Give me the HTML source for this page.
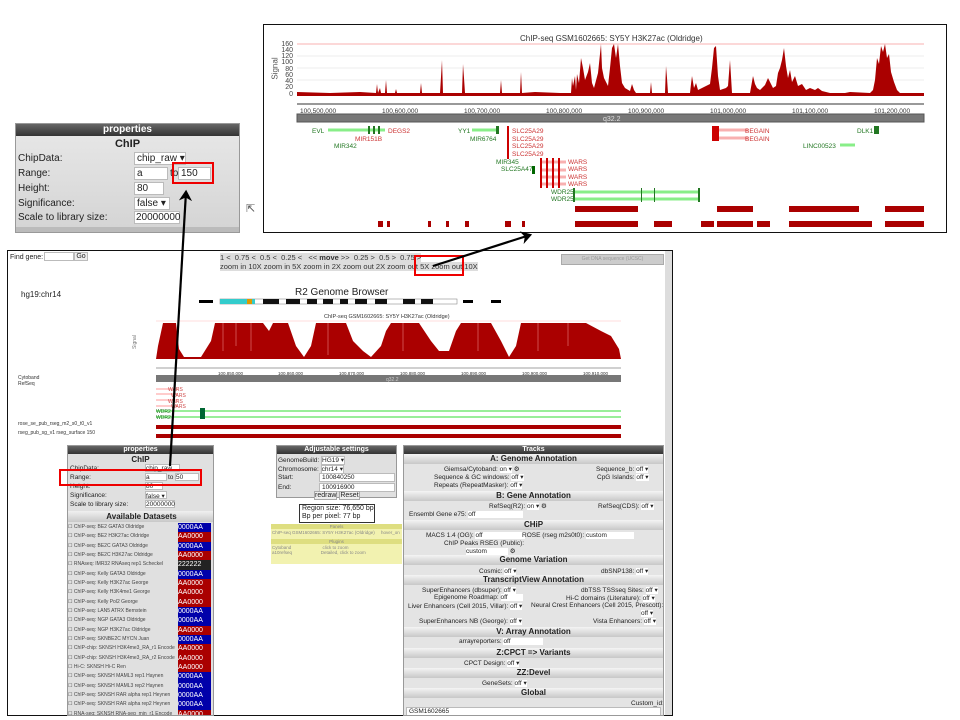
<!DOCTYPE html>
<html><head><meta charset="utf-8">
<style>
*{margin:0;padding:0;box-sizing:border-box}
body{width:960px;height:720px;background:#fff;position:relative;overflow:hidden;font-family:"Liberation Sans",sans-serif;color:#222}
.a{position:absolute}
.t{position:absolute;white-space:nowrap}
.hdr{background:linear-gradient(#666,#333);color:#fff;font-weight:bold;text-align:center}
.sec{position:absolute;left:0;right:0;background:linear-gradient(#f4f4f4,#c8c8c8);font-weight:bold;text-align:center;font-size:8px;height:10px;line-height:10px}
.inp{position:absolute;background:#fff;border:1px solid #bbb}
.rb{position:absolute;border:2px solid #e00}
</style></head><body>

<!-- TOP ZOOMED CHART -->
<div class="a" style="left:263px;top:24px;width:684px;height:209px;border:1.5px solid #111"></div>
<div class="t" style="left:520px;top:34px;font-size:8px;color:#333">ChIP-seq GSM1602665: SY5Y H3K27ac (Oldridge)</div>
<div class="t" style="left:264px;top:64px;font-size:8px;color:#555;transform:rotate(-90deg)">Signal</div>
<svg class="a" style="left:270px;top:38px" width="670" height="190">
 <g font-size="7" fill="#444" font-family="Liberation Sans" text-anchor="end">
  <text x="23" y="8">160</text><text x="23" y="14">140</text><text x="23" y="20">120</text><text x="23" y="26">100</text><text x="23" y="33">80</text><text x="23" y="39">60</text><text x="23" y="45">40</text><text x="23" y="51">20</text><text x="23" y="58">0</text>
 </g>
 <line x1="27" y1="6" x2="654" y2="6" stroke="#f8b0b0" stroke-width="1"/>
 <g stroke="#eee"><line x1="27" y1="18" x2="654" y2="18"/><line x1="27" y1="30" x2="654" y2="30"/><line x1="27" y1="42" x2="654" y2="42"/></g>
 <polygon fill="#a00" points="27,56 27,54 60,55 90,54 106,55 107,46 108,55 110,50 111,55 115,55 116,42 117,55 125,55 126,51 127,55 150,55 151,45 152,55 170,55 171,39 172,22 173,55 192,55 193,26 194,40 195,55 230,55 231,42 232,55 250,55 251,34 252,55 265,54 290,55 301,55 302,40 303,48 305,38 306,52 307,36 309,45 311,20 313,30 315,42 318,34 320,25 322,45 324,50 328,35 330,16 331,6 332,30 334,40 338,48 340,30 342,10 344,6 346,20 348,6 350,28 352,45 355,50 360,53 362,46 364,52 366,55 380,55 381,44 382,55 395,55 396,28 397,40 398,55 420,55 421,46 422,38 424,50 426,45 428,52 432,50 436,48 440,46 442,30 444,10 446,8 448,38 450,52 456,50 458,48 460,22 462,55 480,55 483,38 485,46 487,50 490,52 495,47 498,40 500,44 503,50 506,48 508,35 510,30 512,22 514,10 516,28 518,40 520,32 522,44 525,38 528,48 532,46 536,52 540,50 545,52 548,50 552,53 560,55 575,55 580,54 600,55 603,52 605,42 607,20 609,26 611,8 613,14 615,6 617,20 619,16 621,34 624,44 627,52 630,55 654,55 654,58 27,58"/>
 <line x1="27" y1="66" x2="654" y2="66" stroke="#333"/>
 <g font-size="6.5" fill="#333" font-family="Liberation Sans">
  <text x="30" y="75">100,500,000</text><text x="112" y="75">100,600,000</text><text x="194" y="75">100,700,000</text><text x="276" y="75">100,800,000</text><text x="358" y="75">100,900,000</text><text x="440" y="75">101,000,000</text><text x="522" y="75">101,100,000</text><text x="604" y="75">101,200,000</text>
 </g>
 <rect x="27" y="76" width="627" height="8" fill="#777" stroke="#555"/>
 <text x="333" y="83" font-size="7" fill="#ddd" font-family="Liberation Sans">q32.2</text>
 <g font-size="6.5" font-family="Liberation Sans">
  <line x1="58" y1="92" x2="115" y2="92" stroke="#8e8" stroke-width="3"/><text x="42" y="95" fill="#272">EVL</text>
  <g><rect x="98" y="88" width="2" height="8" fill="#272"/><rect x="103" y="88" width="2" height="8" fill="#272"/><rect x="108" y="88" width="2" height="8" fill="#272"/></g>
  <text x="118" y="95" fill="#c33">DEGS2</text>
  <text x="85" y="103" fill="#c33">MIR151B</text><text x="64" y="110" fill="#272">MIR342</text>
  <text x="188" y="95" fill="#272">YY1</text><line x1="202" y1="92" x2="228" y2="92" stroke="#8e8" stroke-width="3"/><rect x="226" y="88" width="3" height="8" fill="#272"/>
  <text x="200" y="103" fill="#272">MIR6764</text>
  <g fill="#c33"><text x="242" y="95">SLC25A29</text><text x="242" y="103">SLC25A29</text><text x="242" y="110">SLC25A29</text><text x="242" y="118">SLC25A29</text></g>
  <g fill="#c00"><rect x="237" y="88" width="2" height="33"/></g>
  <text x="226" y="126" fill="#272">MIR345</text><text x="231" y="133" fill="#272">SLC25A47</text><rect x="262" y="128" width="3" height="8" fill="#060"/>
  <g stroke="#f8b0b0" stroke-width="3"><line x1="270" y1="124" x2="296" y2="124"/><line x1="270" y1="132" x2="296" y2="132"/><line x1="270" y1="139" x2="296" y2="139"/><line x1="270" y1="146" x2="296" y2="146"/></g>
  <g fill="#c00"><rect x="270" y="120" width="2" height="30"/><rect x="276" y="120" width="2" height="30"/><rect x="282" y="120" width="2" height="30"/><rect x="288" y="120" width="2" height="30"/></g>
  <g fill="#c33"><text x="298" y="126">WARS</text><text x="298" y="133">WARS</text><text x="298" y="141">WARS</text><text x="298" y="148">WARS</text></g>
  <g stroke="#8e8" stroke-width="3"><line x1="304" y1="154" x2="430" y2="154"/><line x1="304" y1="161" x2="430" y2="161"/></g>
  <g fill="#272"><rect x="303" y="150" width="2" height="14"/><rect x="428" y="150" width="2" height="14"/><rect x="371" y="150" width="1" height="14"/><rect x="384" y="150" width="1" height="14"/></g>
  <text x="281" y="156" fill="#272">WDR25</text><text x="281" y="163" fill="#272">WDR25</text>
  <g stroke="#f8b0b0" stroke-width="3"><line x1="448" y1="92" x2="478" y2="92"/><line x1="448" y1="100" x2="478" y2="100"/></g>
  <rect x="442" y="88" width="7" height="15" fill="#c00"/>
  <text x="475" y="95" fill="#c33">BEGAIN</text><text x="475" y="103" fill="#c33">BEGAIN</text>
  <text x="533" y="110" fill="#272">LINC00523</text><line x1="570" y1="107" x2="585" y2="107" stroke="#8e8" stroke-width="3"/>
  <text x="587" y="95" fill="#272">DLK1</text><rect x="604" y="88" width="5" height="8" fill="#272"/>
 </g>
 <g fill="#a00">
  <rect x="305" y="168" width="63" height="6"/><rect x="447" y="168" width="36" height="6"/><rect x="519" y="168" width="70" height="6"/><rect x="615" y="168" width="39" height="6"/>
  <rect x="305" y="183" width="63" height="6"/><rect x="384" y="183" width="18" height="6"/><rect x="431" y="183" width="13" height="6"/><rect x="447" y="183" width="36" height="6"/><rect x="487" y="183" width="13" height="6"/><rect x="519" y="183" width="70" height="6"/><rect x="589" y="183" width="13" height="6"/><rect x="615" y="183" width="39" height="6"/>
  <rect x="108" y="183" width="5" height="6"/><rect x="117" y="183" width="3" height="6"/><rect x="158" y="183" width="3" height="6"/><rect x="176" y="183" width="3" height="6"/><rect x="195" y="183" width="4" height="6"/><rect x="235" y="183" width="6" height="6"/><rect x="252" y="183" width="3" height="6"/>
 </g>
</svg>

<!-- TOP PROPERTIES PANEL -->
<div class="a" style="left:15px;top:123px;width:225px;height:110px;background:linear-gradient(#e8e8e8,#d4d4d4);border:1px solid #999;overflow:hidden;font-size:10px">
 <div class="hdr" style="height:12px;line-height:12px;font-size:10px">properties</div>
 <div style="text-align:center;font-weight:bold;font-size:11px;margin-top:2px">ChIP</div>
 <div class="t" style="left:2px;top:29px">ChipData:</div>
 <div class="t" style="left:2px;top:44px">Range:</div>
 <div class="t" style="left:2px;top:59px">Height:</div>
 <div class="t" style="left:2px;top:74px">Significance:</div>
 <div class="t" style="left:2px;top:88px">Scale to library size:</div>
 <div class="inp" style="left:118px;top:28px;width:52px;height:13px;padding-left:2px">chip_raw ▾</div>
 <div class="inp" style="left:118px;top:43px;width:34px;height:13px;padding-left:2px">a</div>
 <div class="t" style="left:154px;top:44px">to</div>
 <div class="inp" style="left:162px;top:43px;width:33px;height:13px;padding-left:2px">150</div>
 <div class="inp" style="left:118px;top:58px;width:30px;height:13px;padding-left:2px">80</div>
 <div class="inp" style="left:118px;top:73px;width:36px;height:13px;padding-left:2px">false ▾</div>
 <div class="inp" style="left:118px;top:87px;width:46px;height:13px;padding-left:1px">20000000</div>
 <div class="a" style="left:0;top:103px;width:226px;height:8px;background:#bbb"></div>
</div>
<div class="rb" style="left:172px;top:162px;width:42px;height:22px"></div>
<div class="t" style="left:246px;top:202px;font-size:11px;color:#555">⇱</div>

<!-- MAIN SCREENSHOT -->
<div class="a" style="left:7px;top:250px;width:666px;height:466px;border:1.5px solid #111;overflow:hidden;font-size:7px">
 <div class="a" style="left:657px;top:0;width:7px;height:466px;background:#ddd"></div>
 <div class="t" style="left:2px;top:3px">Find gene:</div>
 <div class="inp" style="left:36px;top:1px;width:30px;height:9px"></div>
 <div class="inp" style="left:66px;top:1px;width:14px;height:9px;background:#eee;text-align:center">Go</div>
 <div class="t" style="left:212px;top:2px;font-size:7.5px;background:#ddd;color:#333">1 &lt; &nbsp;0.75 &lt; &nbsp;0.5 &lt; &nbsp;0.25 &lt; &nbsp; &lt;&lt; <b>move</b> &gt;&gt; &nbsp;0.25 &gt; &nbsp;0.5 &gt; &nbsp;0.75 &gt;</div>
 <div class="t" style="left:212px;top:11px;font-size:7.5px;background:#ddd;color:#333">zoom in 10X zoom in 5X zoom in 2X zoom out 2X zoom out 5X zoom out 10X</div>
 <div class="a" style="left:553px;top:3px;width:103px;height:11px;background:#ccc;border:1px solid #aaa;color:#999;font-size:5px;text-align:center;line-height:9px">Get DNA sequence (UCSC)</div>
 <div class="t" style="left:13px;top:39px;font-size:8px">hg19:chr14</div>
 <div class="t" style="left:287px;top:36px;font-size:10px;color:#222">R2 Genome Browser</div>
 <svg class="a" style="left:185px;top:47px" width="320" height="8">
  <rect x="6" y="2" width="14" height="3" fill="#000"/>
  <rect x="27" y="1" width="237" height="5" fill="#fff" stroke="#777" stroke-width=".5"/>
  <rect x="27" y="1" width="35" height="5" fill="#3cc"/><rect x="54" y="1" width="5" height="5" fill="#d90"/>
  <g fill="#111"><rect x="70" y="1" width="16" height="5"/><rect x="93" y="1" width="14" height="5"/><rect x="114" y="1" width="10" height="5"/><rect x="130" y="1" width="10" height="5"/><rect x="147" y="1" width="8" height="5"/><rect x="162" y="1" width="12" height="5"/><rect x="182" y="1" width="12" height="5"/><rect x="210" y="1" width="12" height="5"/><rect x="228" y="1" width="12" height="5"/></g>
  <rect x="270" y="2" width="10" height="3" fill="#000"/><rect x="298" y="2" width="10" height="3" fill="#000"/>
 </svg>
 <div class="t" style="left:316px;top:63px;font-size:5.5px;color:#333">ChIP-seq GSM1602665: SY5Y H3K27ac (Oldridge)</div>
 <div class="t" style="left:120px;top:88px;font-size:5px;color:#777;transform:rotate(-90deg)">Signal</div>
 <svg class="a" style="left:0;top:0" width="664" height="466">
  <line x1="148" y1="70" x2="613" y2="70" stroke="#fbb" stroke-width=".6"/>
  <polygon fill="#a00" points="148,108 150,95 155,72 168,72 171,98 176,106 193,106 203,90 207,72 255,72 261,80 265,72 280,72 288,95 296,106 303,95 308,72 338,72 345,90 355,100 363,106 373,95 378,80 383,72 411,72 423,90 431,100 441,100 448,80 453,72 483,72 493,90 501,106 508,95 513,72 578,72 593,80 603,85 611,98 613,108"/>
  <g stroke="#e88" stroke-width=".7" opacity=".8"><line x1="215" y1="72" x2="215" y2="100"/><line x1="228" y1="72" x2="228" y2="95"/><line x1="243" y1="72" x2="243" y2="100"/><line x1="320" y1="72" x2="320" y2="104"/><line x1="395" y1="72" x2="395" y2="100"/><line x1="470" y1="72" x2="470" y2="100"/><line x1="530" y1="72" x2="530" y2="100"/><line x1="560" y1="72" x2="560" y2="95"/></g>
  <line x1="148" y1="117" x2="613" y2="117" stroke="#444" stroke-width=".6"/>
  <g font-size="4.5" fill="#333" font-family="Liberation Sans"><text x="210" y="124">100,850,000</text><text x="270" y="124">100,860,000</text><text x="331" y="124">100,870,000</text><text x="392" y="124">100,880,000</text><text x="453" y="124">100,890,000</text><text x="514" y="124">100,900,000</text><text x="575" y="124">100,910,000</text></g>
  <rect x="148" y="124" width="465" height="7" fill="#777"/>
  <text x="378" y="130" font-size="5" fill="#ccc" font-family="Liberation Sans">q32.2</text>
  <g font-size="5" fill="#333" font-family="Liberation Sans"><text x="10" y="128">Cytoband</text><text x="10" y="134">RefSeq</text><text x="10" y="174">rose_se_pub_rseg_m2_s0_t0_v1</text><text x="10" y="183">rseg_pub_sg_v1 rseg_surface 150</text></g>
  <g stroke="#fbb" stroke-width="1.5"><line x1="148" y1="138" x2="170" y2="138"/><line x1="148" y1="143" x2="170" y2="143"/><line x1="148" y1="149" x2="170" y2="149"/><line x1="148" y1="155" x2="170" y2="155"/></g>
  <g font-size="5" fill="#c44" font-family="Liberation Sans"><text x="160" y="140">WARS</text><text x="163" y="146">WARS</text><text x="160" y="152">WARS</text><text x="163" y="157">WARS</text></g>
  <g stroke="#9e9" stroke-width="2"><line x1="148" y1="160" x2="613" y2="160"/><line x1="148" y1="166" x2="613" y2="166"/></g>
  <rect x="192" y="157" width="5" height="11" fill="#063"/>
  <g font-size="5" fill="#272" font-family="Liberation Sans"><text x="148" y="162">WDR2</text><text x="148" y="168">WDR2</text></g>
  <rect x="148" y="174" width="465" height="4" fill="#a00"/><rect x="148" y="183" width="465" height="4" fill="#a00"/>
 </svg>
</div>
<div class="rb" style="left:414px;top:255px;width:50px;height:21px"></div>

<!-- BOTTOM PROPERTIES -->
<div class="a" style="left:67px;top:445px;width:147px;height:271px;background:#e0e0e0;border:1px solid #999;overflow:hidden;font-size:6.5px">
 <div class="hdr" style="height:8px;line-height:8px;font-size:7px">properties</div>
 <div style="text-align:center;font-weight:bold;font-size:8px;margin-top:1px">ChIP</div>
 <div class="t" style="left:2px;top:19px">ChipData:</div>
 <div class="t" style="left:2px;top:28px">Range:</div>
 <div class="t" style="left:2px;top:37px">Height:</div>
 <div class="t" style="left:2px;top:46px">Significance:</div>
 <div class="t" style="left:2px;top:55px">Scale to library size:</div>
 <div class="inp" style="left:77px;top:18px;width:35px;height:8px">chip_raw</div>
 <div class="inp" style="left:77px;top:27px;width:22px;height:8px">a</div><div class="t" style="left:100px;top:28px">to</div>
 <div class="inp" style="left:107px;top:27px;width:24px;height:8px">50</div>
 <div class="inp" style="left:77px;top:36px;width:18px;height:8px">80</div>
 <div class="inp" style="left:77px;top:45px;width:22px;height:8px">false ▾</div>
 <div class="inp" style="left:77px;top:54px;width:30px;height:8px">20000000</div>
 <div class="a" style="left:0;top:65px;width:147px;height:11px;background:linear-gradient(#f0f0f0,#c8c8c8);font-weight:bold;font-size:8px;text-align:center;line-height:11px">Available Datasets</div>
 <div class="a" style="left:0;top:77px;font-size:5px;color:#444;line-height:9.33px">
  <div>☐ ChIP-seq: BE2 GATA3 Oldridge</div><div>☐ ChIP-seq: BE2 H3K27ac Oldridge</div><div>☐ ChIP-seq: BE2C GATA3 Oldridge</div><div>☐ ChIP-seq: BE2C H3K27ac Oldridge</div><div>☐ RNAseq: IMR32 RNAseq rep1 Scheckel</div><div>☐ ChIP-seq: Kelly GATA3 Oldridge</div><div>☐ ChIP-seq: Kelly H3K27ac George</div><div>☐ ChIP-seq: Kelly H3K4me1 George</div><div>☐ ChIP-seq: Kelly Pol2 George</div><div>☐ ChIP-seq: LAN5 ATRX Bernstein</div><div>☐ ChIP-seq: NGP GATA3 Oldridge</div><div>☐ ChIP-seq: NGP H3K27ac Oldridge</div><div>☐ ChIP-seq: SKNBE2C MYCN Juan</div><div>☐ ChIP-chip: SKNSH H3K4me3_RA_r1 Encode</div><div>☐ ChIP-chip: SKNSH H3K4me3_RA_r2 Encode</div><div>☐ Hi-C: SKNSH Hi-C Ren</div><div>☐ ChIP-seq: SKNSH MAML3 rep1 Haynen</div><div>☐ ChIP-seq: SKNSH MAML3 rep2 Haynen</div><div>☐ ChIP-seq: SKNSH RAR alpha rep1 Heynen</div><div>☐ ChIP-seq: SKNSH RAR alpha rep2 Heynen</div><div>☐ RNA-seq: SKNSH RNA-seq_min_r1 Encode</div>
 </div>
 <div class="a" style="left:110px;top:77px;width:33px;font-size:7px;color:#fff;line-height:9.33px">
  <div style="background:#00a">0000AA</div><div style="background:#a00">AA0000</div><div style="background:#00a">0000AA</div><div style="background:#a00">AA0000</div><div style="background:#222">222222</div><div style="background:#00a">0000AA</div><div style="background:#a00">AA0000</div><div style="background:#a00">AA0000</div><div style="background:#a00">AA0000</div><div style="background:#00a">0000AA</div><div style="background:#00a">0000AA</div><div style="background:#a00">AA0000</div><div style="background:#00a">0000AA</div><div style="background:#a00">AA0000</div><div style="background:#a00">AA0000</div><div style="background:#a00">AA0000</div><div style="background:#00a">0000AA</div><div style="background:#00a">0000AA</div><div style="background:#00a">0000AA</div><div style="background:#00a">0000AA</div><div style="background:#a00">AA0000</div>
 </div>
</div>
<div class="rb" style="left:59px;top:469px;width:143px;height:17px"></div>

<!-- ADJUSTABLE SETTINGS -->
<div class="a" style="left:276px;top:445px;width:121px;height:53px;background:#e0e0e0;border:1px solid #999;font-size:6.5px">
 <div class="hdr" style="height:8px;line-height:8px;font-size:7px">Adjustable settings</div>
 <div class="t" style="left:1px;top:10px">GenomeBuild: <span style="background:#fff;border:1px solid #bbb">HG19 ▾</span></div>
 <div class="t" style="left:1px;top:19px">Chromosome: <span style="background:#fff;border:1px solid #bbb">chr14 ▾</span></div>
 <div class="t" style="left:1px;top:28px">Start:</div><div class="inp" style="left:42px;top:27px;width:76px;height:9px;padding-left:2px">100840250</div>
 <div class="t" style="left:1px;top:38px">End:</div><div class="inp" style="left:42px;top:37px;width:76px;height:9px;padding-left:2px">100916900</div>
 <div class="t" style="left:37px;top:46px;font-size:7px"><span style="background:#eee;border:1px solid #aaa">redraw</span> <span style="background:#eee;border:1px solid #aaa">Reset</span></div>
</div>
<div class="a" style="left:299px;top:504px;width:76px;height:19px;border:1px solid #333;font-size:7px;line-height:8px;padding-left:2px">Region size: 76,650 bp<br>Bp per pixel: 77 bp</div>
<div class="a" style="left:271px;top:524px;width:131px;height:40px;background:#f2f2b0;font-size:4.5px;color:#888">
 <div style="background:#dede80;text-align:center;height:5px;line-height:5px">Panels</div>
 <div style="padding:1px">ChIP-seq GSM1602665: SY5Y H3K27ac (Oldridge) &nbsp; &nbsp; hover_on</div>
 <div style="background:#dede80;text-align:center;height:5px;line-height:5px;margin-top:3px">Plugins</div>
 <div style="padding:1px">Cytoband &nbsp; &nbsp; &nbsp; &nbsp; &nbsp; &nbsp; &nbsp; &nbsp; &nbsp; &nbsp; &nbsp; &nbsp; click to zoom<br>a10refseq &nbsp; &nbsp; &nbsp; &nbsp; &nbsp; &nbsp; &nbsp; &nbsp; &nbsp; &nbsp; &nbsp; Detailed, click to zoom</div>
</div>

<!-- TRACKS -->
<div class="a" style="left:403px;top:445px;width:261px;height:271px;background:#e4e4e4;border:1px solid #999;overflow:hidden;font-size:6.5px">
 <div class="hdr" style="height:8px;line-height:8px;font-size:7px">Tracks</div>
 <div class="sec" style="top:8px">A: Genome Annotation</div>
 <div class="t" style="left:40px;top:19px">Giemsa/Cytoband: <span style="background:#fff">on ▾</span> ⚙</div><div class="t" style="left:192px;top:19px">Sequence_b: <span style="background:#fff">off ▾</span></div>
 <div class="t" style="left:30px;top:27px">Sequence &amp; GC windows: <span style="background:#fff">off ▾</span></div><div class="t" style="left:193px;top:27px">CpG Islands: <span style="background:#fff">off ▾</span></div>
 <div class="t" style="left:30px;top:35px">Repeats (RepeatMasker): <span style="background:#fff">off ▾</span></div>
 <div class="sec" style="top:45px">B: Gene Annotation</div>
 <div class="t" style="left:85px;top:56px">RefSeq(R2): <span style="background:#fff">on ▾</span> ⚙</div><div class="t" style="left:194px;top:56px">RefSeq(CDS): <span style="background:#fff">off ▾</span></div>
 <div class="t" style="left:5px;top:65px">Ensembl Gene e75: <span style="background:#fff;display:inline-block;width:55px">off</span></div>
 <div class="sec" style="top:74px">CHiP</div>
 <div class="t" style="left:22px;top:86px">MACS 1.4 (OG): <span style="background:#fff;display:inline-block;width:50px">off</span></div><div class="t" style="left:118px;top:86px">ROSE (rseg m2s0t0): <span style="background:#fff;display:inline-block;width:48px">custom</span></div>
 <div class="t" style="left:40px;top:94px">ChIP Peaks RSEG (Public):</div>
 <div class="t" style="left:62px;top:101px"><span style="background:#fff;display:inline-block;width:42px">custom</span> ⚙</div>
 <div class="sec" style="top:109px">Genome Variation</div>
 <div class="t" style="left:75px;top:121px">Cosmic: <span style="background:#fff">off ▾</span></div><div class="t" style="left:197px;top:121px">dbSNP138: <span style="background:#fff">off ▾</span></div>
 <div class="sec" style="top:129px">TranscriptView Annotation</div>
 <div class="t" style="left:18px;top:140px">SuperEnhancers (dbsuper): <span style="background:#fff">off ▾</span></div><div class="t" style="left:177px;top:140px">dbTSS TSSseq Sites: <span style="background:#fff">off ▾</span></div>
 <div class="t" style="left:30px;top:148px">Epigenome Roadmap: <span style="background:#fff;display:inline-block;width:22px">off</span></div><div class="t" style="left:162px;top:148px">Hi-C domains (Literature): <span style="background:#fff">off ▾</span></div>
 <div class="t" style="left:4px;top:156px">Liver Enhancers (Cell 2015, Villar): <span style="background:#fff">off ▾</span></div><div class="t" style="left:127px;top:156px">Neural Crest Enhancers (Cell 2015, Prescott):</div>
 <div class="t" style="left:237px;top:163px"><span style="background:#fff">off ▾</span></div>
 <div class="t" style="left:15px;top:171px">SuperEnhancers NB (George): <span style="background:#fff">off ▾</span></div><div class="t" style="left:189px;top:171px">Vista Enhancers: <span style="background:#fff">off ▾</span></div>
 <div class="sec" style="top:181px">V: Array Annotation</div>
 <div class="t" style="left:55px;top:192px">arrayreporters: <span style="background:#fff;display:inline-block;width:40px">off</span></div>
 <div class="sec" style="top:202px">Z:CPCT =&gt; Variants</div>
 <div class="t" style="left:60px;top:213px">CPCT Design: <span style="background:#fff">off ▾</span></div>
 <div class="sec" style="top:222px">ZZ:Devel</div>
 <div class="t" style="left:78px;top:233px">GeneSets: <span style="background:#fff">off ▾</span></div>
 <div class="sec" style="top:242px">Global</div>
 <div class="t" style="left:227px;top:254px">Custom_id:</div>
 <div class="inp" style="left:2px;top:261px;width:255px;height:10px;padding-left:2px">GSM1602665</div>
</div>

<!-- ARROWS -->
<svg class="a" style="left:0;top:0" width="960" height="720">
 <defs><marker id="ah" markerWidth="6" markerHeight="6" refX="4" refY="3" orient="auto" markerUnits="strokeWidth"><path d="M0,0 L5,3 L0,6 L1.5,3z" fill="#000"/></marker></defs>
 <line x1="170" y1="466" x2="186" y2="192" stroke="#000" stroke-width="2.2" marker-end="url(#ah)"/>
 <line x1="433" y1="266" x2="530" y2="235" stroke="#000" stroke-width="2.2" marker-end="url(#ah)"/>
</svg>
</body></html>
